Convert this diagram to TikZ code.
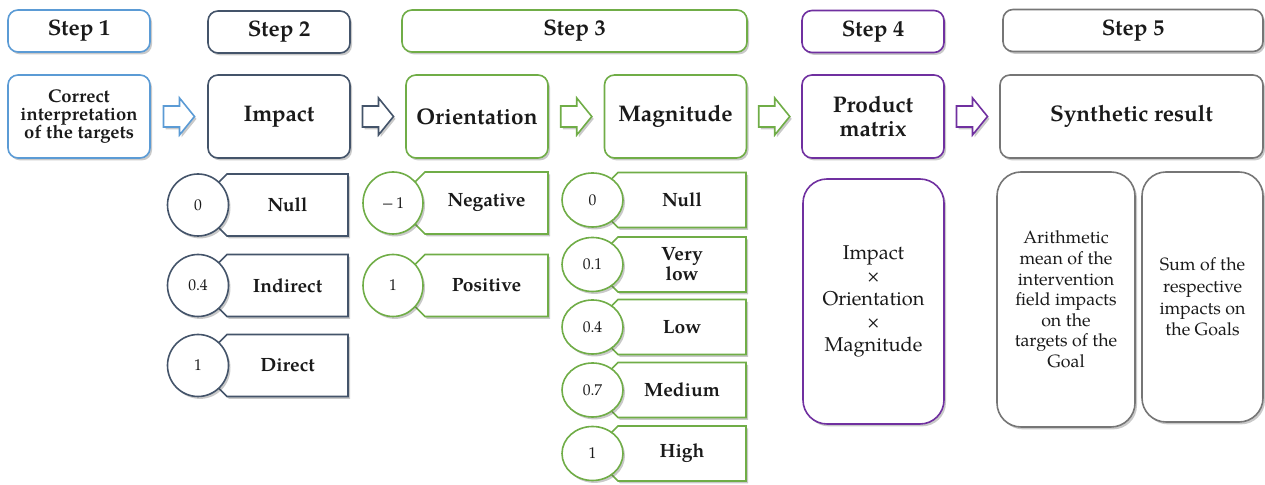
\documentclass[tikz,border=0pt]{standalone}
\usepackage{fontspec}
\setmainfont{TeX Gyre Pagella}
\usetikzlibrary{shadows,calc,shapes.geometric}
\definecolor{cblue}{HTML}{5B9BD5}
\definecolor{cslate}{HTML}{44546A}
\definecolor{cgreen}{HTML}{70AD47}
\definecolor{cpurple}{HTML}{7030A0}
\definecolor{cgray}{HTML}{767676}
\definecolor{ctext}{HTML}{1A1A1A}
\tikzset{
 shad/.style={drop shadow={shadow xshift=1pt,shadow yshift=-1.2pt,opacity=0.3,fill=black!70}},
 box/.style={draw=#1, fill=white, line width=0.8pt, rounded corners=5pt, shad, inner sep=0pt, align=center, text=ctext},
 hdr/.style={box=#1, minimum height=21pt, font=\fontsize{11.2}{13}\selectfont\bfseries},
 mainb/.style={box=#1, minimum height=41.5pt, font=\fontsize{11.3}{12}\selectfont\bfseries},
 tall/.style={box=#1, rounded corners=12pt, font=\fontsize{8.9}{10.3}\selectfont},
 tagshape/.style={draw=#1, fill=white, line width=0.8pt, shad},
 taglbl/.style={inner sep=0pt, align=center, text=ctext, font=\fontsize{9.6}{10}\selectfont\bfseries},
 valc/.style={ellipse, draw=#1, fill=white, line width=0.8pt, shad, inner sep=0pt, text=ctext, font=\fontsize{7.8}{8}\selectfont},
 barrow/.pic={\draw[pic actions, line width=0.8pt, fill=white, shad] (-15.5,-10.5) -- (0.5,-10.5) -- (0.5,-18.5) -- (15.5,0) -- (0.5,18.5) -- (0.5,10.5) -- (-15.5,10.5) -- cycle;}
}
\begin{document}
\begin{tikzpicture}[x=0.5pt,y=-0.5pt]
\useasboundingbox (0,0) rectangle (1265,485);
% step headers
\node[hdr=cblue, minimum width=71pt] (h1) at (79,31) {Step 1};
\node[hdr=cslate, minimum width=71pt] (h2) at (279,32) {Step 2};
\node[hdr=cgreen, minimum width=172.5pt] (h3) at (574.5,31) {Step 3};
\node[hdr=cpurple, minimum width=71pt] (h4) at (873,31.5) {Step 4};
\node[hdr=cgray, minimum width=130pt] (h5) at (1133,30.5) {Step 5};
% main row
\node[mainb=cblue, minimum width=71pt, font=\fontsize{9.2}{9}\selectfont\bfseries] (m1) at (79,116.5) {Correct\\interpretation\\of the targets};
\node[mainb=cslate, minimum width=71pt] (imp) at (279,116.5) {Impact};
\node[mainb=cgreen, minimum width=71pt] (ori) at (477,116.5) {Orientation};
\node[mainb=cgreen, minimum width=71pt] (mag) at (675.5,116.5) {Magnitude};
\node[mainb=cpurple, minimum width=71pt] (prod) at (873,116.5) {Product\\matrix};
\node[mainb=cgray, minimum width=131.5pt] (syn) at (1131.5,116.5) {Synthetic result};
% block arrows
\pic[draw=cblue] at ($(m1.east)!0.5!(imp.west)$) {barrow};
\pic[draw=cslate] at ($(imp.east)!0.5!(ori.west)$) {barrow};
\pic[draw=cgreen] at ($(ori.east)!0.5!(mag.west)$) {barrow};
\pic[draw=cgreen] at ($(mag.east)!0.5!(prod.west)$) {barrow};
\pic[draw=cpurple] at ($(prod.east)!0.5!(syn.west)$) {barrow};
% impact tags
\foreach \y/\n/\t [count=\i] in {205/0/Null,285.5/0.4/Indirect,365.5/1/Direct}{
 \draw[tagshape=cslate] (227,\y-31) -- (348,\y-31) -- (348,\y+31) -- (227,\y+31) -- (196,\y) -- cycle;
 \node[taglbl] (it\i) at (287.5,\y) {\t};
 \node[valc=cslate, minimum width=30.5pt, minimum height=31pt] (ic\i) at (198,\y) {\n};
}
% orientation tags
\foreach \y/\n/\t [count=\i] in {203/{−\,1}/Negative,285.5/1/Positive}{
 \draw[tagshape=cgreen] (425,\y-31) -- (548,\y-31) -- (548,\y+31) -- (425,\y+31) -- (394,\y) -- cycle;
 \node[taglbl] (ot\i) at (486.5,\y) {\t};
 \node[valc=cgreen, minimum width=30pt, minimum height=31pt] (oc\i) at (393,\y) {\n};
}
% magnitude tags
\foreach \y/\n/\t [count=\i] in {200/0/Null,264.5/0.1/{Very\\low},327/0.4/Low,390/0.7/Medium,453.5/1/High}{
 \draw[tagshape=cgreen] (618,\y-27.5) -- (746,\y-27.5) -- (746,\y+27.5) -- (618,\y+27.5) -- (590.5,\y) -- cycle;
 \node[taglbl] (mt\i) at (682,\y) {\t};
 \node[valc=cgreen, minimum width=30.5pt, minimum height=27pt] (mc\i) at (592.5,\y) {\n};
}
% tall boxes
\node[tall=cpurple, minimum width=70.5pt, minimum height=122.5pt, font=\fontsize{10}{11.5}\selectfont] (pf) at (873.5,301.5) {Impact\\×\\Orientation\\×\\Magnitude};
\node[tall=cgray, minimum width=69pt, minimum height=127.5pt] (am) at (1066,299.5) {Arithmetic\\mean of the\\intervention\\field impacts\\on the\\targets of the\\Goal};
\node[tall=cgray, minimum width=60.5pt, minimum height=125pt, font=\fontsize{8.9}{10.8}\selectfont] (sg) at (1202.5,297) {Sum of the\\respective\\impacts on\\the Goals};
\end{tikzpicture}
\end{document}
